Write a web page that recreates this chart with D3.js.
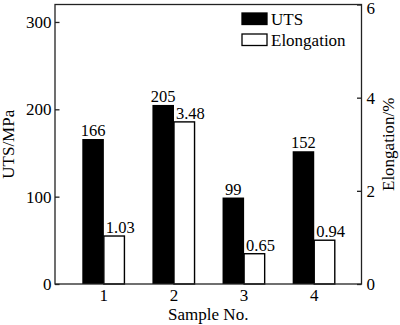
<!DOCTYPE html>
<html>
<head>
<meta charset="utf-8">
<script src="https://cdn.jsdelivr.net/npm/d3@7"></script>
<style>
  html, body { margin: 0; padding: 0; background: #fff; }
  svg, svg text { font-family: "Liberation Serif", "Times New Roman", serif; }
</style>
</head>
<body>
<svg id="chart" width="400" height="325"></svg>
<script>
// Tensile data for each sample
const samples = ["1", "2", "3", "4"];
const utsValues = [166, 205, 99, 152];             // UTS, MPa
const elongationValues = [1.03, 3.48, 0.65, 0.94]; // Elongation, %
const leftTicks = [0, 100, 200, 300];
const rightTicks = [0, 2, 4, 6];

const FONT = "'Liberation Serif', 'Times New Roman', serif";
const svg = d3.select("#chart").attr("font-family", FONT);
const plot = { left: 55, right: 361.5, top: 4.5, bottom: 284 };

const x = d3.scaleBand()
  .domain(samples)
  .range([plot.left, plot.right])
  .paddingInner(0.385)
  .paddingOuter(0.378)
  .align(0.515);

const yLeft = d3.scaleLinear().domain([0, 320]).range([plot.bottom, plot.top]);
const yRight = d3.scaleLinear().domain([0, 6]).range([plot.bottom, plot.top]);

const half = x.bandwidth() / 2;

// UTS bars (solid black)
svg.append("g").selectAll("rect")
  .data(samples)
  .join("rect")
  .attr("x", (d) => x(d))
  .attr("y", (d, i) => yLeft(utsValues[i]))
  .attr("width", half)
  .attr("height", (d, i) => plot.bottom - yLeft(utsValues[i]))
  .attr("fill", "#000");

// Elongation bars (outlined)
svg.append("g").selectAll("rect")
  .data(samples)
  .join("rect")
  .attr("x", (d) => x(d) + half)
  .attr("y", (d, i) => yRight(elongationValues[i]))
  .attr("width", half - 1)
  .attr("height", (d, i) => plot.bottom - yRight(elongationValues[i]))
  .attr("fill", "#fff")
  .attr("stroke", "#000")
  .attr("stroke-width", 1.4);

// Value labels
svg.append("g").selectAll("text")
  .data(samples)
  .join("text")
  .attr("x", (d) => x(d) + half / 2)
  .attr("y", (d, i) => yLeft(utsValues[i]) - 3)
  .attr("text-anchor", "middle")
  .attr("font-family", FONT)
  .attr("font-size", 16.5)
  .text((d, i) => utsValues[i]);

svg.append("g").selectAll("text")
  .data(samples)
  .join("text")
  .attr("x", (d) => x(d) + half + 2)
  .attr("y", (d, i) => yRight(elongationValues[i]) - 3)
  .attr("text-anchor", "start")
  .attr("font-family", FONT)
  .attr("font-size", 16.5)
  .text((d, i) => elongationValues[i].toFixed(2));

// Plot frame
svg.append("rect")
  .attr("x", plot.left)
  .attr("y", plot.top)
  .attr("width", plot.right - plot.left)
  .attr("height", plot.bottom - plot.top)
  .attr("fill", "none")
  .attr("stroke", "#222")
  .attr("stroke-width", 1.3);

// Left axis (ticks point inward)
const gLeft = svg.append("g")
  .attr("transform", `translate(${plot.left},0)`)
  .call(d3.axisLeft(yLeft).tickValues(leftTicks).tickFormat(d3.format("d"))
    .tickSize(-4.5).tickPadding(3.5));
gLeft.select(".domain").remove();

// Right axis (ticks point inward)
const gRight = svg.append("g")
  .attr("transform", `translate(${plot.right},0)`)
  .call(d3.axisRight(yRight).tickValues(rightTicks).tickFormat(d3.format("d"))
    .tickSize(-4.5).tickPadding(5));
gRight.select(".domain").remove();
// keep the top label inside the canvas
gRight.selectAll(".tick text").filter((d) => d === 6).attr("dy", "0.5em");

// Bottom axis (labels only)
const gBottom = svg.append("g")
  .attr("transform", `translate(0,${plot.bottom})`)
  .call(d3.axisBottom(x).tickSize(0).tickPadding(5));
gBottom.select(".domain").remove();

[gLeft, gRight, gBottom].forEach((g) => g.attr("font-family", FONT).attr("font-size", 17));
svg.selectAll(".tick line").attr("stroke", "#222").attr("stroke-width", 1.3);
svg.selectAll(".tick text")
  .attr("font-family", FONT)
  .attr("font-size", 17)
  .attr("fill", "#000");

// Axis titles
svg.append("text")
  .attr("x", (plot.left + plot.right) / 2)
  .attr("y", 320)
  .attr("text-anchor", "middle")
  .attr("font-family", FONT)
  .attr("font-size", 17)
  .text("Sample No.");

svg.append("text")
  .attr("transform", `translate(13.5,${(plot.top + plot.bottom) / 2}) rotate(-90)`)
  .attr("text-anchor", "middle")
  .attr("font-family", FONT)
  .attr("font-size", 17)
  .text("UTS/MPa");

svg.append("text")
  .attr("transform", `translate(394,${(plot.top + plot.bottom) / 2}) rotate(-90)`)
  .attr("text-anchor", "middle")
  .attr("font-family", FONT)
  .attr("font-size", 17)
  .text("Elongation/%");

// Legend
const legendItems = [
  { label: "UTS", fill: "#000" },
  { label: "Elongation", fill: "#fff" }
];
const legend = svg.append("g").attr("transform", "translate(242,13)");
const li = legend.selectAll("g")
  .data(legendItems)
  .join("g")
  .attr("transform", (d, i) => `translate(0,${i * 21})`);
li.append("rect")
  .attr("width", 25)
  .attr("height", 11.5)
  .attr("fill", (d) => d.fill)
  .attr("stroke", "#000")
  .attr("stroke-width", 1.3);
li.append("text")
  .attr("x", 29)
  .attr("y", 12)
  .attr("font-family", FONT)
  .attr("font-size", 17)
  .text((d) => d.label);
</script>
</body>
</html>
